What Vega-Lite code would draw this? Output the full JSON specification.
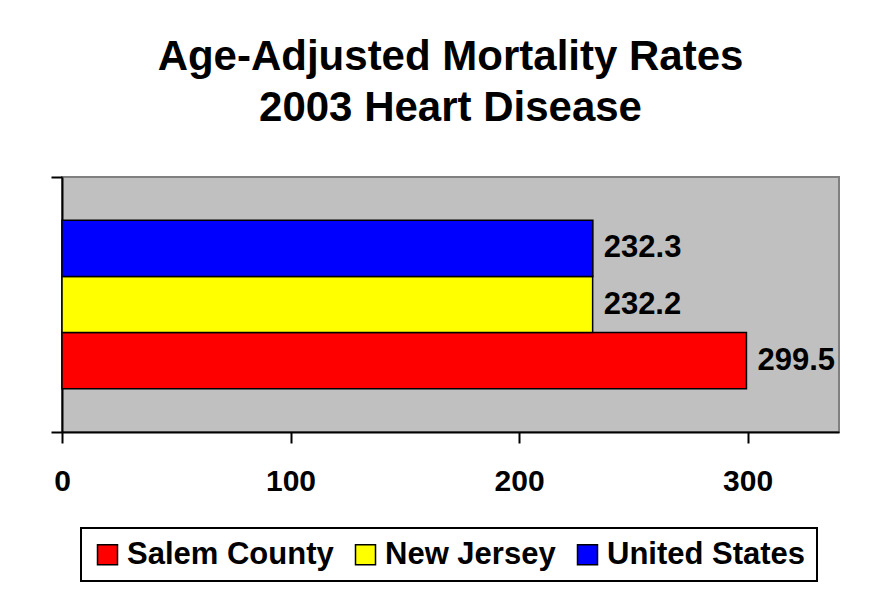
{
  "$schema": "https://vega.github.io/schema/vega-lite/v6.json",
  "width": 777,
  "height": 255,
  "autosize": {"type": "none"},
  "padding": {"left": 62, "top": 177, "right": 41, "bottom": 158},
  "background": "white",
  "title": {
    "text": ["Age-Adjusted Mortality Rates", "2003 Heart Disease"],
    "fontSize": 42,
    "font": "Liberation Sans",
    "fontWeight": "bold",
    "color": "black",
    "anchor": "middle",
    "baseline": "bottom",
    "lineHeight": 51,
    "offset": 4
  },
  "data": {
    "values": [
      {"group": "2003", "region": "Salem County", "rate": 299.5},
      {"group": "2003", "region": "New Jersey", "rate": 232.2},
      {"group": "2003", "region": "United States", "rate": 232.3}
    ]
  },
  "encoding": {
    "y": {
      "field": "group",
      "type": "nominal",
      "scale": {"paddingInner": 0, "paddingOuter": 0},
      "axis": {
        "title": null,
        "labels": false,
        "tickBand": "extent",
        "tickSize": 11,
        "tickColor": "black",
        "tickWidth": 2,
        "domainColor": "black",
        "domainWidth": 2
      }
    },
    "yOffset": {
      "field": "region",
      "type": "nominal",
      "sort": ["United States", "New Jersey", "Salem County"],
      "scale": {"paddingInner": 0, "paddingOuter": 0.77}
    },
    "x": {
      "field": "rate",
      "type": "quantitative",
      "scale": {"domain": [0, 340], "nice": false},
      "axis": {
        "title": null,
        "values": [0, 100, 200, 300],
        "labelFontSize": 30,
        "labelFont": "Liberation Sans",
        "labelFontWeight": "bold",
        "labelColor": "black",
        "labelPadding": 23,
        "labelFlush": false,
        "tickSize": 11,
        "tickColor": "black",
        "tickWidth": 2,
        "domainColor": "black",
        "domainWidth": 2,
        "grid": false
      }
    }
  },
  "layer": [
    {
      "mark": {"type": "bar", "stroke": "black", "strokeWidth": 1.5},
      "encoding": {
        "color": {
          "field": "region",
          "type": "nominal",
          "scale": {
            "domain": ["Salem County", "New Jersey", "United States"],
            "range": ["#FF0000", "#FFFF00", "#0000FF"]
          },
          "legend": {
            "orient": "none",
            "legendX": 19,
            "legendY": 351,
            "direction": "horizontal",
            "title": null,
            "symbolType": "square",
            "symbolSize": 400,
            "symbolStrokeColor": "black",
            "symbolStrokeWidth": 1.5,
            "symbolOpacity": 1,
            "labelFontSize": 31,
            "labelFont": "Liberation Sans",
            "labelFontWeight": "bold",
            "labelColor": "black",
            "labelOffset": 4,
            "labelLimit": 500,
            "columnPadding": 16,
            "padding": 11,
            "strokeColor": "black",
            "fillColor": "white"
          }
        }
      }
    },
    {
      "mark": {
        "type": "text",
        "align": "left",
        "baseline": "middle",
        "dx": 11,
        "fontSize": 31,
        "fontWeight": "bold",
        "font": "Liberation Sans",
        "color": "black"
      },
      "encoding": {
        "text": {"field": "rate", "type": "quantitative", "format": ".1f"}
      }
    }
  ],
  "config": {
    "view": {"fill": "#C0C0C0", "stroke": "#808080", "strokeWidth": 2},
    "legend": {"strokeWidth": 2}
  }
}
